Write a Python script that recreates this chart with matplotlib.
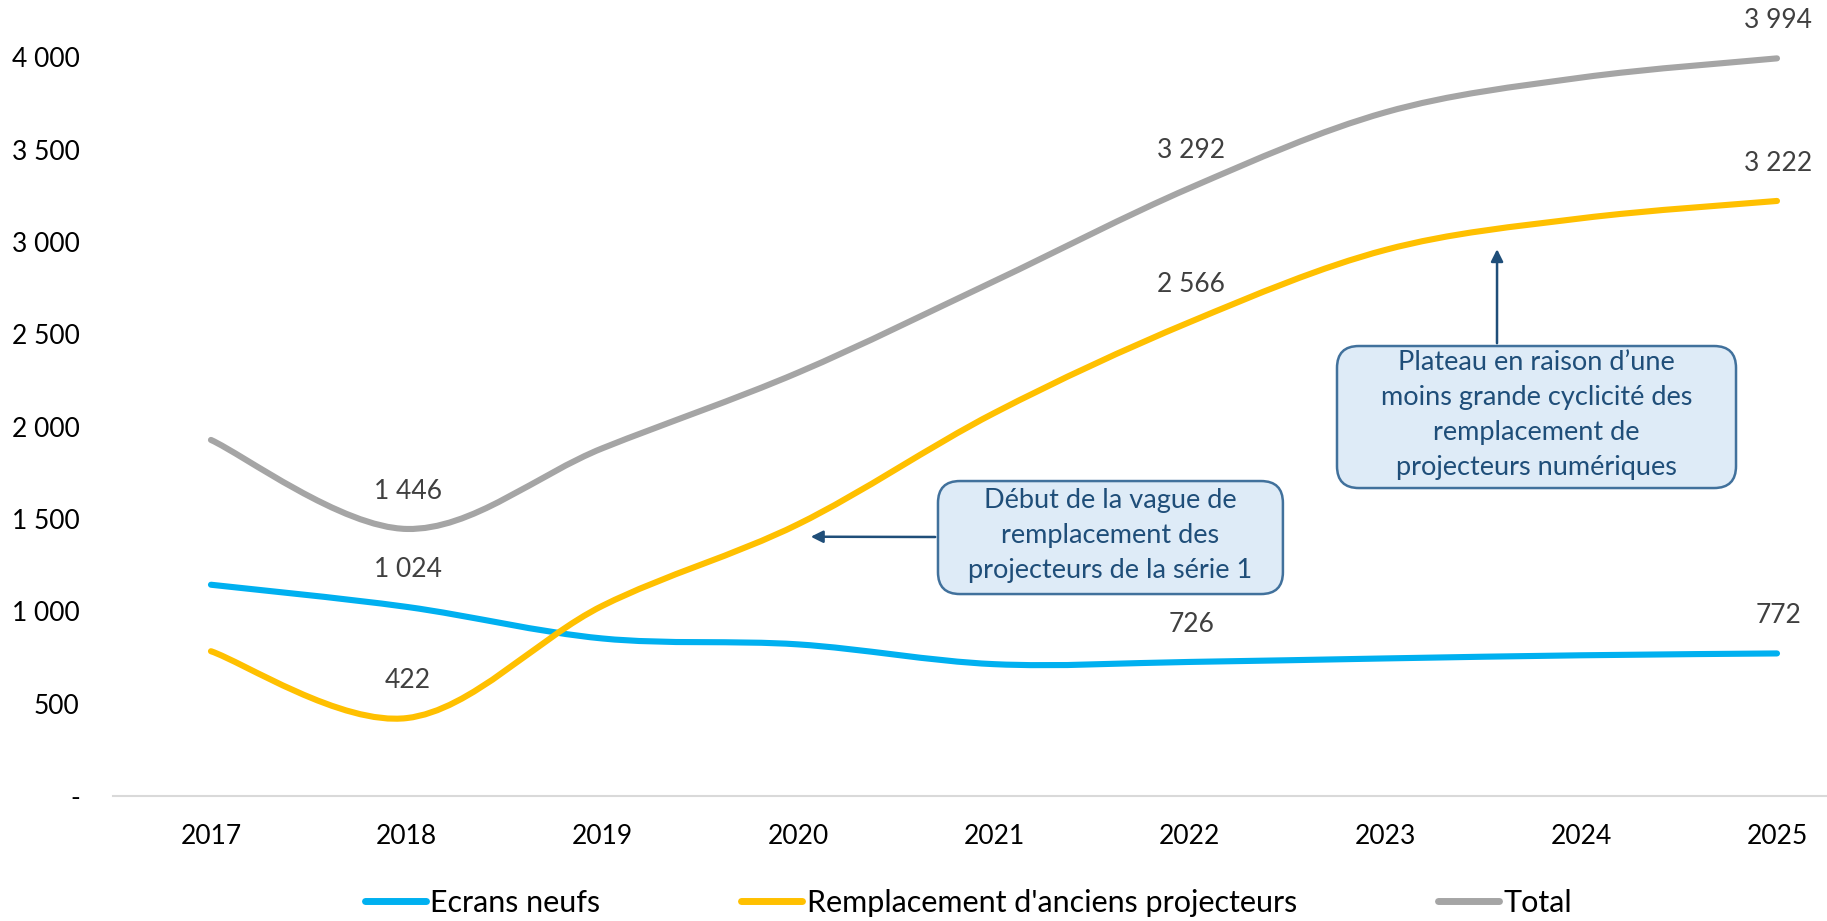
import matplotlib
matplotlib.use("Agg")
import matplotlib.pyplot as plt
from matplotlib.path import Path
from matplotlib.patches import PathPatch, FancyBboxPatch
from matplotlib.lines import Line2D
from matplotlib.ticker import FuncFormatter, MultipleLocator

plt.rcParams['font.family'] = ['Lato', 'DejaVu Sans']

# data
years = [2017, 2018, 2019, 2020, 2021, 2022, 2023, 2024, 2025]
ecrans_neufs = [1144, 1024, 853, 821, 714, 726, 745, 762, 772]
remplacement = [784, 422, 1030, 1472, 2073, 2566, 2957, 3128, 3222]
total = [1928, 1446, 1883, 2293, 2787, 3292, 3702, 3890, 3994]
labelled_years = [2018, 2022, 2025]

series_names = ["Ecrans neufs", "Remplacement d'anciens projecteurs", "Total"]
series_colors = ["#00B0F0", "#FFC000", "#A5A5A5"]

note_wave = "Début de la vague de\nremplacement des\nprojecteurs de la série 1"
note_plateau = ("Plateau en raison d\u2019une\nmoins grande cyclicité des\n"
                "remplacement de\nprojecteurs numériques")


def smooth_path(xs, ys):
    # excel-like smoothed line: cubic bezier through every point
    pts = list(zip(xs, ys))
    verts = [pts[0]]
    codes = [Path.MOVETO]
    for i in range(len(pts) - 1):
        p0 = pts[i - 1] if i > 0 else pts[i]
        p1 = pts[i]
        p2 = pts[i + 1]
        p3 = pts[i + 2] if i + 2 < len(pts) else pts[i + 1]
        c1 = (p1[0] + (p2[0] - p0[0]) / 6, p1[1] + (p2[1] - p0[1]) / 6)
        c2 = (p2[0] - (p3[0] - p1[0]) / 6, p2[1] - (p3[1] - p1[1]) / 6)
        verts += [c1, c2, p2]
        codes += [Path.CURVE4] * 3
    return Path(verts, codes)


fig = plt.figure(figsize=(18.27, 9.21), dpi=100)
ax = fig.add_axes([0.0619, 0.1357, 0.9643, 0.8643])

handles = []
for name, values, color in zip(series_names, [ecrans_neufs, remplacement, total], series_colors):
    patch = PathPatch(smooth_path(years, values), fill=False, edgecolor=color,
                      linewidth=4.4, capstyle='round', joinstyle='round', zorder=3)
    ax.add_patch(patch)
    handles.append(Line2D([0], [0], color=color, linewidth=5, solid_capstyle='round'))
    for yr in labelled_years:
        v = values[years.index(yr)]
        ax.annotate(f"{v:,}".replace(",", " "), xy=(yr, v), xytext=(1, 27),
                    textcoords='offset points', ha='center', va='center',
                    fontsize=19, color='#404040')

ax.set_xlim(2016.5, 2025.5)
ax.set_ylim(0, 4310)
ax.set_xticks(years)
ax.yaxis.set_major_locator(MultipleLocator(500))
ax.yaxis.set_major_formatter(FuncFormatter(
    lambda v, _: "-" if v == 0 else f"{int(v):,}".replace(",", " ")))
ax.tick_params(axis='both', length=0, labelsize=19, labelcolor='#000000')
ax.tick_params(axis='y', pad=24)
ax.tick_params(axis='x', pad=20)
for s in ['top', 'right', 'left']:
    ax.spines[s].set_visible(False)
ax.spines['bottom'].set_color('#D9D9D9')
ax.spines['bottom'].set_linewidth(1.5)

# annotation boxes
box_fc = '#DEEBF7'
box_ec = '#41719C'
text_c = '#1F4E79'
for (x0, y0, w, h), txt in [((0.5134, 0.3550, 0.1888, 0.1227), note_wave),
                            ((0.7318, 0.4701, 0.2184, 0.1542), note_plateau)]:
    box = FancyBboxPatch((x0, y0), w, h, boxstyle="round,pad=0,rounding_size=0.012",
                         transform=fig.transFigure, facecolor=box_fc, edgecolor=box_ec,
                         linewidth=1.8, mutation_aspect=1.98, zorder=4)
    fig.patches.append(box)
    fig.text(x0 + w / 2, y0 + h / 2 + 0.002, txt, ha='center', va='center', fontsize=19.5,
             color=text_c, linespacing=1.5, zorder=5)

arrow_style = dict(arrowstyle='-|>', color=text_c, lw=1.8, mutation_scale=18)
ax.annotate("", xy=(2020.05, 1404), xytext=(938, 384), textcoords='figure pixels',
            arrowprops=arrow_style)
ax.annotate("", xy=(2023.57, 2976), xytext=(1497, 921 - 346), textcoords='figure pixels',
            arrowprops=arrow_style)

fig.legend(handles, series_names, loc='center', bbox_to_anchor=(0.530, 0.0195),
           ncol=3, frameon=False, fontsize=22, handlelength=2.0, handletextpad=0.15,
           columnspacing=4.6)

fig.savefig("out.png", dpi=100)
